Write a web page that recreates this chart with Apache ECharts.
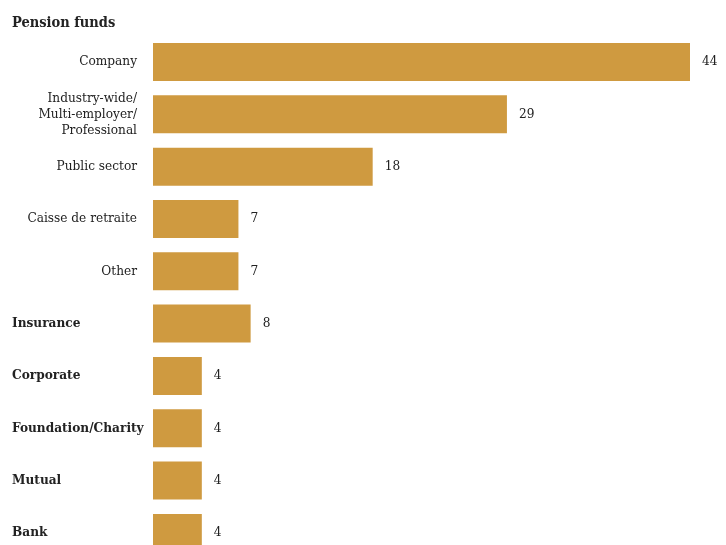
<!DOCTYPE html>
<html>
<head>
<meta charset="utf-8">
<script src="https://cdn.jsdelivr.net/npm/echarts@6/dist/echarts.min.js"></script>
<style>
  html, body { margin: 0; padding: 0; background: #fff; overflow: hidden; }
  /* the last row runs past the bottom edge of the window */
  #chart { width: 726px; height: 562px; }
</style>
</head>
<body>
<div id="chart"></div>
<script>
// Investor types and their counts
const categories = [
  'Company',
  'Industry-wide/\nMulti-employer/\nProfessional',
  'Public sector',
  'Caisse de retraite',
  'Other',
  'Insurance',
  'Corporate',
  'Foundation/Charity',
  'Mutual',
  'Bank'
];
const values = [44, 29, 18, 7, 7, 8, 4, 4, 4, 4];
// 'sub' rows belong to the pension-fund group, 'main' rows are top-level types
const levels = ['sub', 'sub', 'sub', 'sub', 'sub', 'main', 'main', 'main', 'main', 'main'];
const groupTitle = 'Pension funds';

const FONT = '"DejaVu Serif Condensed", "DejaVu Serif", serif';
const TEXT = '#222';
const BAR = '#cf9a40';

const chart = echarts.init(document.getElementById('chart'), null, { renderer: 'canvas' });

chart.setOption({
  animation: false,
  backgroundColor: '#fff',
  title: {
    text: groupTitle,
    left: 12,
    top: 16,
    padding: 0,
    textStyle: { fontFamily: FONT, fontSize: 14.5, fontWeight: 'bold', color: TEXT }
  },
  grid: { left: 153, right: 36, top: 35.8, height: 523.3, containLabel: false },
  xAxis: {
    type: 'value',
    min: 0,
    max: 44,
    show: false
  },
  yAxis: {
    type: 'category',
    inverse: true,
    data: categories,
    axisLine: { show: false },
    axisTick: { show: false },
    splitLine: { show: false },
    axisLabel: {
      margin: 3,
      align: 'right',
      interval: 0,
      formatter: function (value, index) {
        const lv = levels[index];
        return value.split('\n').map(function (l) { return '{' + lv + '|' + l + '}'; }).join('\n');
      },
      rich: {
        sub: {
          fontFamily: FONT, fontSize: 13.5, color: TEXT,
          width: 125, align: 'right', padding: [0, 13, 0, 0], lineHeight: 16
        },
        main: {
          fontFamily: FONT, fontSize: 13.5, fontWeight: 'bold', color: TEXT,
          width: 138, align: 'left', lineHeight: 16
        }
      }
    }
  },
  series: [{
    type: 'bar',
    data: values,
    barWidth: 38,
    itemStyle: { color: BAR },
    label: {
      show: true,
      position: 'right',
      distance: 12,
      fontFamily: FONT,
      fontSize: 13.5,
      color: TEXT
    }
  }]
});
</script>
</body>
</html>
